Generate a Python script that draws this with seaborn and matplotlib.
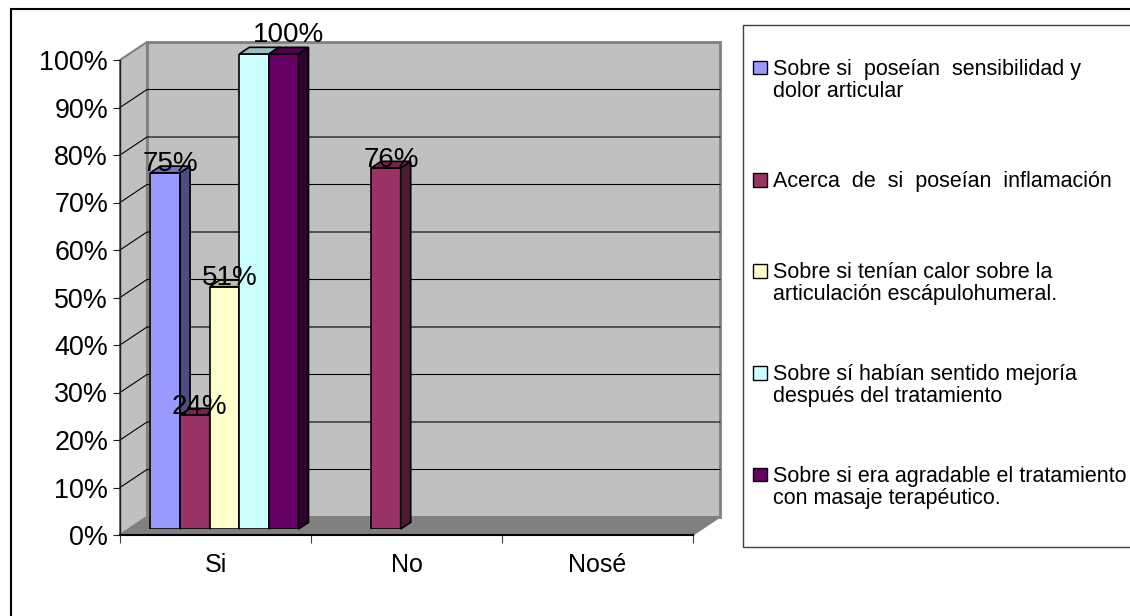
import numpy as np
import pandas as pd
import matplotlib
matplotlib.use("Agg")
import matplotlib.pyplot as plt
from matplotlib.patches import Polygon, Rectangle
from matplotlib.colors import to_rgb
import seaborn as sns

# ---- data -------------------------------------------------------------
categorias = ["Si", "No", "Nosé"]
preguntas = [
    "Sobre si  poseían  sensibilidad y\ndolor articular",
    "Acerca  de  si  poseían  inflamación",
    "Sobre si tenían calor sobre la\narticulación escápulohumeral.",
    "Sobre sí habían sentido mejoría\ndespués del tratamiento",
    "Sobre si era agradable el tratamiento\ncon masaje terapéutico.",
]
valores_si = [75, 24, 51, 100, 100]
valores_no = [np.nan, 76, np.nan, np.nan, np.nan]
valores_nose = [np.nan, np.nan, np.nan, np.nan, np.nan]
colores = ["#9999FF", "#993366", "#FFFFCC", "#CCFFFF", "#660066"]
ticks_y = list(range(0, 101, 10))

filas = []
for cat, vals in zip(categorias, [valores_si, valores_no, valores_nose]):
    for preg, v in zip(preguntas, vals):
        if not np.isnan(v):
            filas.append({"respuesta": cat, "pregunta": preg, "porcentaje": v})
df = pd.DataFrame(filas)

# ---- figure setup -----------------------------------------------------
W, H = 1130, 616
sns.set_theme(style="white")
plt.rcParams["font.family"] = ["Liberation Sans", "DejaVu Sans"]

fig = plt.figure(figsize=(W / 100, H / 100), dpi=100)
fig.patch.set_facecolor("white")


def fx(px):
    return px / W


def fy(py):
    return 1 - py / H


# box geometry (pixels)
X0, X1 = 120, 693      # front edge of the category axis
Y0, Y100 = 535, 60     # front edge of the value axis
DX, DY = 27, 18        # depth of the box
DB, BD = 1 / 3, 10 / 27  # depth of the bar fronts, thickness of the bars

ax_front = fig.add_axes([fx(X0), fy(Y0), (X1 - X0) / W, (Y0 - Y100) / H], zorder=3)
ax = fig.add_axes([fx(X0 + DB * DX), fy(Y0 - DB * DY), (X1 - X0) / W, (Y0 - Y100) / H], zorder=2)

for a in (ax_front, ax):
    a.set_xlim(-0.5, 2.5)
    a.set_ylim(0, 100)
    a.patch.set_alpha(0)

ux = 3 / (X1 - X0)
uy = 100 / (Y0 - Y100)


def proj(x, v, d):
    return (x + (d - DB) * DX * ux, v + (d - DB) * DY * uy)


# ---- walls, floor and gridlines --------------------------------------
wall = "#C0C0C0"
edge = "#808080"
side = [proj(-0.5, 0, 0), proj(-0.5, 100, 0), proj(-0.5, 100, 1), proj(-0.5, 0, 1)]
back = [proj(-0.5, 0, 1), proj(2.5, 0, 1), proj(2.5, 100, 1), proj(-0.5, 100, 1)]
floor = [proj(-0.5, 0, 0), proj(2.5, 0, 0), proj(2.5, 0, 1), proj(-0.5, 0, 1)]
ax.add_patch(Polygon(side, closed=True, facecolor=wall, edgecolor=edge, lw=1.5, zorder=1, clip_on=False))
ax.add_patch(Polygon(back, closed=True, facecolor=wall, edgecolor=edge, lw=2, zorder=1, clip_on=False))
for t in ticks_y[1:-1]:
    pts = np.array([proj(-0.5, t, 0), proj(-0.5, t, 1), proj(2.5, t, 1)])
    ax.plot(pts[:, 0], pts[:, 1], color="black", lw=0.8, zorder=2, clip_on=False)
ax.add_patch(Polygon(floor, closed=True, facecolor="#808080", edgecolor="#808080", lw=1, zorder=3, clip_on=False))

# ---- bars -------------------------------------------------------------
sns.barplot(
    data=df, x="respuesta", y="porcentaje", hue="pregunta",
    order=categorias, hue_order=preguntas, palette=colores,
    width=0.775, saturation=1, errorbar=None, edgecolor="black",
    linewidth=1.2, legend=False, ax=ax,
)
ax.set_xlim(-0.5, 2.5)
ax.set_ylim(0, 100)
ax.axis("off")

barras = []
for serie, cont in enumerate(ax.containers):
    for bar in cont:
        h = bar.get_height()
        if np.isfinite(h) and h > 0:
            barras.append((serie, bar))
barras.sort(key=lambda sb: sb[1].get_x())

etiquetas_ocultas = {("Si", 3)}
ajuste_etiqueta = {("Si", 4): 11}

for k, (serie, bar) in enumerate(barras):
    x0, w, h = bar.get_x(), bar.get_width(), bar.get_height()
    rgb = np.array(to_rgb(bar.get_facecolor()))
    z = 10 + 3 * k
    bar.set_zorder(z)
    cara_lado = [proj(x0 + w, 0, DB), proj(x0 + w, h, DB), proj(x0 + w, h, DB + BD), proj(x0 + w, 0, DB + BD)]
    cara_sup = [proj(x0, h, DB), proj(x0 + w, h, DB), proj(x0 + w, h, DB + BD), proj(x0, h, DB + BD)]
    ax.add_patch(Polygon(cara_lado, closed=True, facecolor=rgb * 0.5, edgecolor="black", lw=1.2, zorder=z + 1, clip_on=False))
    ax.add_patch(Polygon(cara_sup, closed=True, facecolor=rgb * 0.75, edgecolor="black", lw=1.2, zorder=z + 2, clip_on=False))

    cat = categorias[int(round(x0 + w / 2))]
    if (cat, serie) in etiquetas_ocultas:
        continue
    lx, ly = proj(x0 + w / 2, h, DB + BD / 2)
    ax.annotate(f"{h:.0f}%", (lx, ly), xytext=(0, 5 + ajuste_etiqueta.get((cat, serie), 0)),
                textcoords="offset pixels", ha="center", va="center",
                fontsize=20, color="black", zorder=100, annotation_clip=False)

# ---- axes on the front plane -----------------------------------------
for s in ("top", "right"):
    ax_front.spines[s].set_visible(False)
ax_front.spines["left"].set_color("#202020")
ax_front.spines["left"].set_linewidth(1)
ax_front.spines["bottom"].set_color("black")
ax_front.spines["bottom"].set_linewidth(1.5)
ax_front.set_yticks(ticks_y)
ax_front.set_yticklabels([f"{t}%" for t in ticks_y])
ax_front.set_xticks(range(len(categorias)))
ax_front.set_xticklabels(categorias)
ax_front.set_xticks([-0.5, 0.5, 1.5, 2.5], minor=True)
ax_front.tick_params(axis="y", left=True, length=5, width=0.8, color="#202020", pad=3.6, labelsize=19.4, labelcolor="black")
ax_front.tick_params(axis="x", which="major", bottom=True, length=0, pad=13, labelsize=18, labelcolor="black")
ax_front.tick_params(axis="x", which="minor", bottom=True, length=6, width=0.8, color="#404040")
ax_front.set_xlabel("")
ax_front.set_ylabel("")

# ---- legend -----------------------------------------------------------
fig.patches.append(Rectangle((fx(743), fy(547)), (W + 20 - 743) / W, (547 - 25) / H,
                             transform=fig.transFigure, fill=False, edgecolor="#404040", lw=1))
centro0, paso, interlinea, cap = 79, 101.8, 22, 13.3
lado = 13.5
for i, (preg, col) in enumerate(zip(preguntas, colores)):
    lineas = preg.split("\n")
    alto = cap + (len(lineas) - 1) * interlinea
    base = centro0 + i * paso - alto / 2 + cap
    fig.patches.append(Rectangle((fx(753), fy(base - 0.5)), lado / W, lado / H,
                                 transform=fig.transFigure, facecolor=col, edgecolor="black", lw=1))
    for j, texto in enumerate(lineas):
        fig.text(fx(773), fy(base + j * interlinea), texto, ha="left", va="baseline",
                 fontsize=15.5, color="black")

# outer chart border
fig.patches.append(Rectangle((fx(11), fy(H + 20)), (W + 20) / W, (H + 11) / H,
                             transform=fig.transFigure, fill=False, edgecolor="black", lw=1.5))

fig.savefig("out.png", dpi=100, facecolor="white")
